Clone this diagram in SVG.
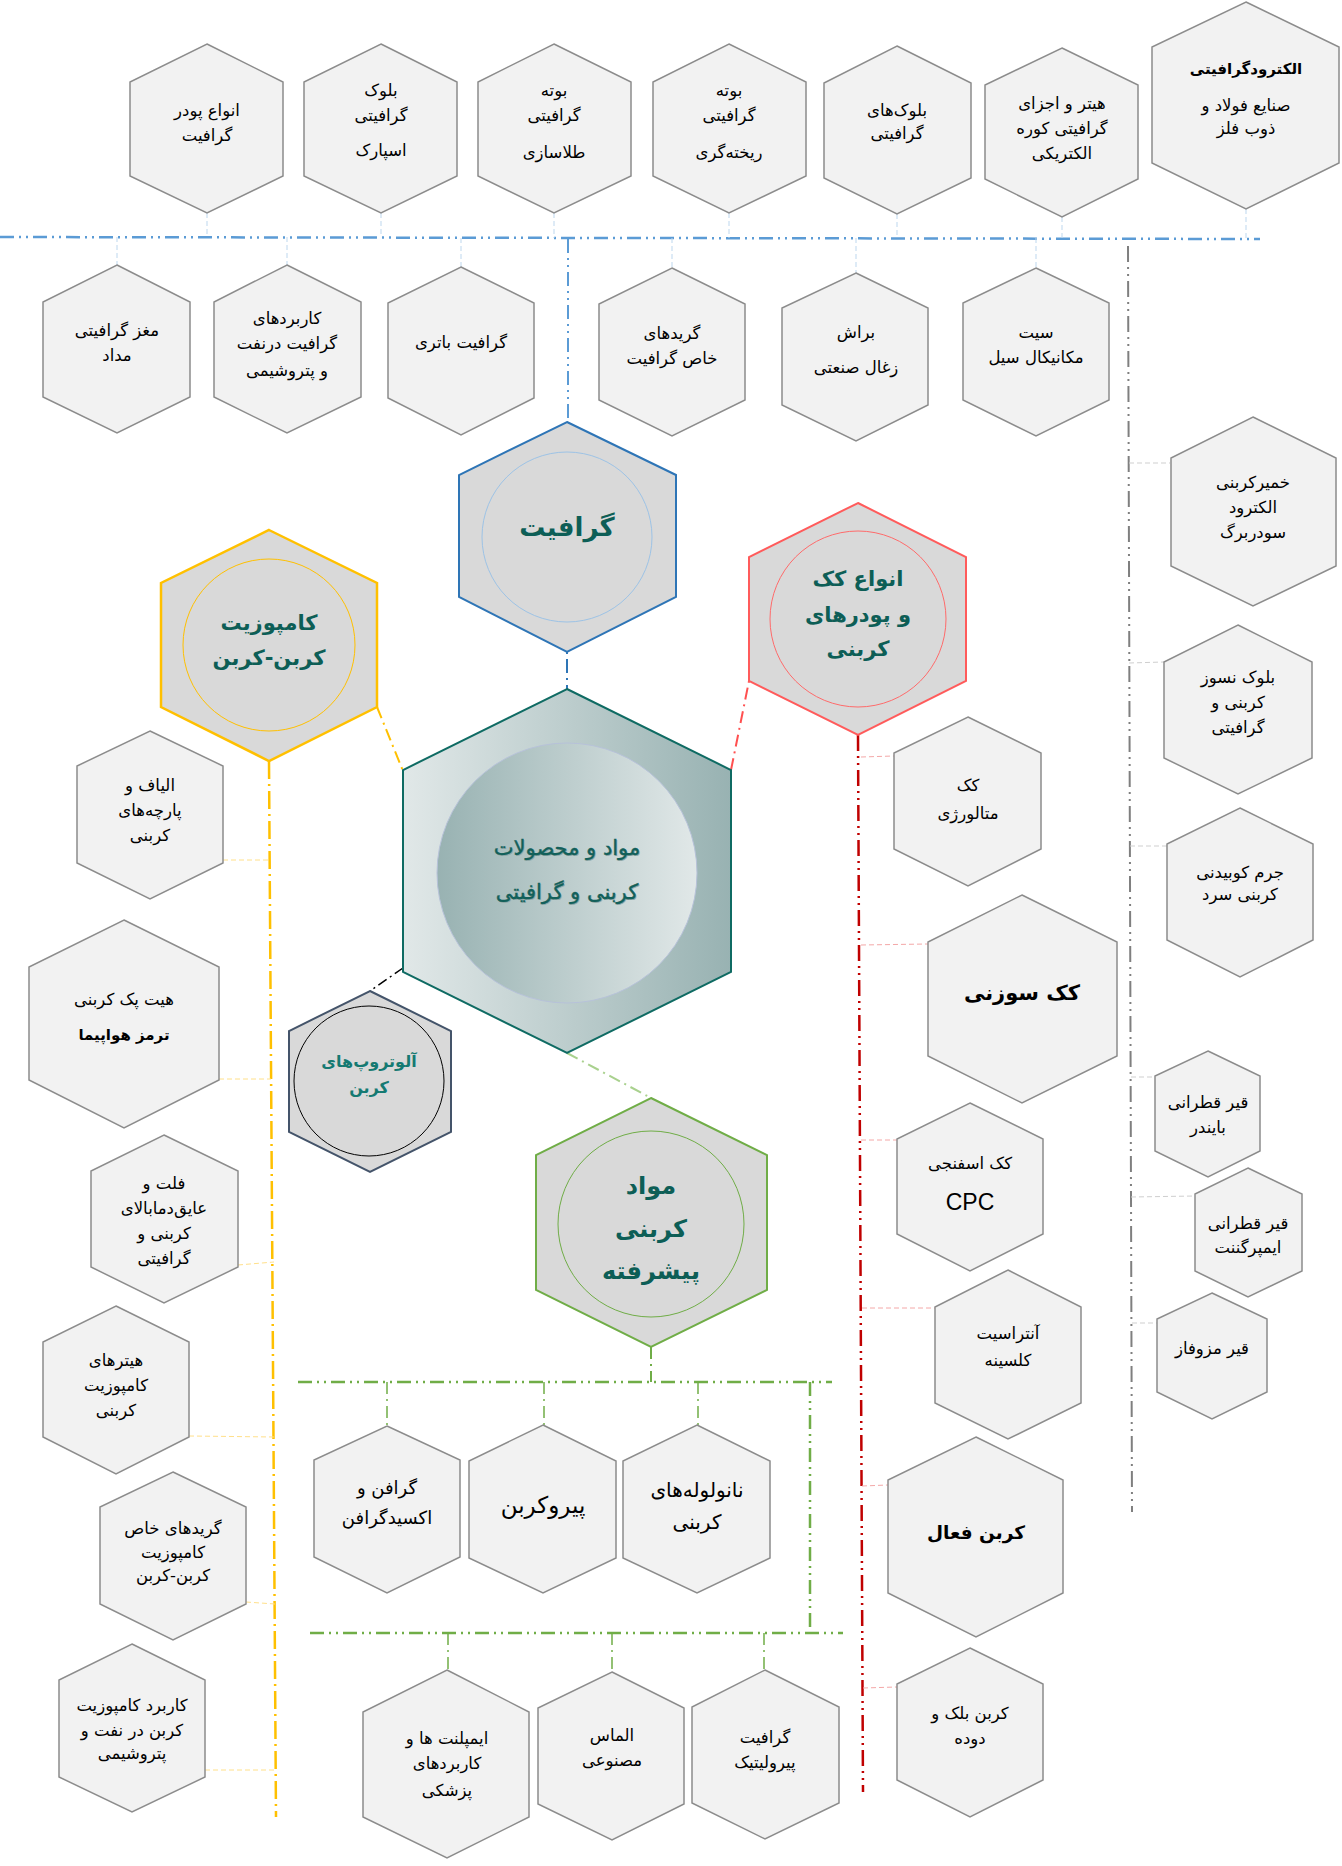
<svg xmlns="http://www.w3.org/2000/svg" width="1342" height="1866" viewBox="0 0 1342 1866">
<style>
text{font-family:"DejaVu Sans","Noto Sans",sans-serif;text-anchor:middle;direction:rtl;}
.t{font-size:16.5px;fill:#000;}
.tb{font-size:15px;fill:#000;font-weight:bold;}
.tbig{font-size:21px;fill:#000;font-weight:bold;}
.cat{font-weight:bold;fill:#0d5e56;}
.hx{fill:#f2f2f2;stroke:#8c8c8c;stroke-width:1.5;}
.thin{fill:none;stroke-width:1;stroke-dasharray:5 3;}
.main{fill:none;}
</style>
<defs>
<linearGradient id="gHex" x1="0" y1="0" x2="1" y2="0">
<stop offset="0" stop-color="#e1e8e8"/><stop offset="1" stop-color="#98b2b2"/>
</linearGradient>
<linearGradient id="gCirc" x1="0" y1="0" x2="1" y2="0">
<stop offset="0" stop-color="#98b2b2"/><stop offset="1" stop-color="#e1e8e8"/>
</linearGradient>
</defs>
<rect width="1342" height="1866" fill="#fff"/>

<g id="connectors">
<line class="main" x1="0" y1="237" x2="1260" y2="239" stroke="#5b9bd5" stroke-width="2.5" stroke-dasharray="14 5 2 5 2 5"/>
<g class="thin" stroke="#bdd7ee">
<line x1="207" y1="213" x2="207" y2="237"/><line x1="381" y1="213" x2="381" y2="237"/>
<line x1="554" y1="213" x2="554" y2="238"/><line x1="729" y1="213" x2="729" y2="238"/>
<line x1="897" y1="214" x2="897" y2="238"/><line x1="1062" y1="217" x2="1062" y2="238"/>
<line x1="1246" y1="209" x2="1246" y2="239"/>
<line x1="117" y1="237" x2="117" y2="265"/><line x1="287" y1="237" x2="287" y2="265"/>
<line x1="461" y1="238" x2="461" y2="267"/><line x1="672" y1="238" x2="672" y2="268"/>
<line x1="856" y1="238" x2="856" y2="273"/><line x1="1036" y1="238" x2="1036" y2="268"/>
</g>
<line class="main" x1="568" y1="239" x2="568" y2="422" stroke="#5b9bd5" stroke-width="2" stroke-dasharray="14 5 2 5 2 5"/>
<line class="main" x1="567" y1="652" x2="567" y2="689" stroke="#2e75b6" stroke-width="2" stroke-dasharray="2 5 14 5"/>
<line class="main" x1="731" y1="770" x2="749" y2="681" stroke="#ff5050" stroke-width="2" stroke-dasharray="12 5 2 5"/>
<line class="main" x1="858" y1="735" x2="863" y2="1792" stroke="#c00000" stroke-width="2.5" stroke-dasharray="16 5 2 5 2 5"/>
<g class="thin" stroke="#f4a8a8">
<line x1="861" y1="757" x2="894" y2="756"/><line x1="861" y1="945" x2="928" y2="944"/>
<line x1="861" y1="1140" x2="897" y2="1140"/><line x1="862" y1="1308" x2="935" y2="1308"/>
<line x1="862" y1="1486" x2="888" y2="1485"/><line x1="863" y1="1688" x2="897" y2="1687"/>
</g>
<line class="main" x1="377" y1="707" x2="403" y2="771" stroke="#ffc000" stroke-width="2" stroke-dasharray="12 5 2 5"/>
<line class="main" x1="269" y1="761" x2="276" y2="1817" stroke="#ffc000" stroke-width="2.5" stroke-dasharray="18 5 2 5"/>
<g class="thin" stroke="#ffe08a">
<line x1="223" y1="860" x2="270" y2="860"/><line x1="219" y1="1079" x2="271" y2="1079"/>
<line x1="238" y1="1265" x2="274" y2="1262"/><line x1="189" y1="1436" x2="275" y2="1437"/>
<line x1="246" y1="1602" x2="275" y2="1604"/><line x1="205" y1="1770" x2="276" y2="1770"/>
</g>
<line class="main" x1="403" y1="968" x2="370" y2="991" stroke="#000" stroke-width="1.5" stroke-dasharray="10 4 2 4"/>
<line class="main" x1="567" y1="1053" x2="651" y2="1098" stroke="#a9d18e" stroke-width="2" stroke-dasharray="12 5 2 5"/>
<line class="main" x1="651" y1="1347" x2="651" y2="1382" stroke="#70ad47" stroke-width="2" stroke-dasharray="12 5 2 5"/>
<g fill="none" stroke="#70ad47" stroke-width="2.5" stroke-dasharray="14 5 2 5 2 5">
<line x1="298" y1="1382" x2="832" y2="1382"/>
<line x1="810" y1="1382" x2="810" y2="1633"/>
<line x1="310" y1="1633" x2="843" y2="1633"/>
</g>
<g fill="none" stroke="#70ad47" stroke-width="1.5" stroke-dasharray="12 5 2 5">
<line x1="387" y1="1382" x2="387" y2="1426"/><line x1="544" y1="1382" x2="544" y2="1425"/>
<line x1="698" y1="1382" x2="698" y2="1425"/><line x1="448" y1="1633" x2="448" y2="1670"/>
<line x1="612" y1="1633" x2="612" y2="1672"/><line x1="764" y1="1633" x2="764" y2="1670"/>
</g>
<line class="main" x1="1128" y1="246" x2="1132" y2="1512" stroke="#7f7f7f" stroke-width="2" stroke-dasharray="16 5 2 5 2 5"/>
<g class="thin" stroke="#cfcfcf">
<line x1="1129" y1="463" x2="1170" y2="463"/><line x1="1129" y1="663" x2="1164" y2="662"/>
<line x1="1130" y1="846" x2="1167" y2="846"/><line x1="1131" y1="1077" x2="1155" y2="1077"/>
<line x1="1131" y1="1197" x2="1195" y2="1196"/><line x1="1132" y1="1323" x2="1157" y2="1323"/>
</g>
</g>

<g id="n_powder"><polygon class="hx" points="207,44 283,82 283,176 207,213 130,176 130,82"/>
<text class="t" x="207" y="116">انواع پودر</text><text class="t" x="207" y="141">گرافیت</text></g>
<g id="n_spark"><polygon class="hx" points="381,44 457,82 457,176 381,213 304,176 304,82"/>
<text class="t" x="381" y="96">بلوک</text><text class="t" x="381" y="121">گرافیتی</text><text class="t" x="381" y="156">اسپارک</text></g>
<g id="n_gold"><polygon class="hx" points="554,44 631,82 631,176 554,213 478,176 478,82"/>
<text class="t" x="554" y="96">بوته</text><text class="t" x="554" y="121">گرافیتی</text><text class="t" x="554" y="158">طلاسازی</text></g>
<g id="n_cast"><polygon class="hx" points="729,44 806,82 806,176 729,213 653,176 653,82"/>
<text class="t" x="729" y="96">بوته</text><text class="t" x="729" y="121">گرافیتی</text><text class="t" x="729" y="158">ریخته‌گری</text></g>
<g id="n_blocks"><polygon class="hx" points="897,46 971,83 971,178 897,214 824,178 824,83"/>
<text class="t" x="897" y="116">بلوک‌های</text><text class="t" x="897" y="139">گرافیتی</text></g>
<g id="n_heater"><polygon class="hx" points="1062,48 1138,85 1138,179 1062,217 985,179 985,85"/>
<text class="t" x="1062" y="109">هیتر و اجزای</text><text class="t" x="1062" y="134">گرافیتی کوره</text><text class="t" x="1062" y="159">الکتریکی</text></g>
<g id="n_electrode"><polygon class="hx" points="1246,2 1339,47 1339,163 1246,209 1152,163 1152,47"/>
<text class="tb" x="1246" y="74">الکترودگرافیتی</text><text class="t" x="1246" y="111">صنایع فولاد و</text><text class="t" x="1246" y="134">ذوب فلز</text></g>

<g id="n_pencil"><polygon class="hx" points="117,265 190,302 190,397 117,433 43,397 43,302"/>
<text class="t" x="117" y="336">مغز گرافیتی</text><text class="t" x="117" y="361">مداد</text></g>
<g id="n_oilgraph"><polygon class="hx" points="287,265 361,302 361,397 287,433 214,397 214,302"/>
<text class="t" x="287" y="324">کاربردهای</text><text class="t" x="287" y="349">گرافیت درنفت</text><text class="t" x="287" y="376">و پتروشیمی</text></g>
<g id="n_battery"><polygon class="hx" points="461,267 534,303 534,398 461,435 388,398 388,303"/>
<text class="t" x="461" y="348">گرافیت باتری</text></g>
<g id="n_grades"><polygon class="hx" points="672,268 745,304 745,400 672,436 599,400 599,304"/>
<text class="t" x="672" y="339">گریدهای</text><text class="t" x="672" y="364">خاص گرافیت</text></g>
<g id="n_brush"><polygon class="hx" points="856,273 928,308 928,405 856,441 782,405 782,308"/>
<text class="t" x="856" y="338">براش</text><text class="t" x="856" y="373">زغال صنعتی</text></g>
<g id="n_seal"><polygon class="hx" points="1036,268 1109,303 1109,400 1036,436 963,400 963,303"/>
<text class="t" x="1036" y="338">سیت</text><text class="t" x="1036" y="363">مکانیکال سیل</text></g>

<g id="n_soder"><polygon class="hx" points="1253,417 1336,458 1336,566 1253,606 1171,566 1171,458"/>
<text class="t" x="1253" y="488">خمیرکربنی</text><text class="t" x="1253" y="513">الکترود</text><text class="t" x="1253" y="538">سودربرگ</text></g>
<g id="n_refract"><polygon class="hx" points="1238,625 1312,662 1312,758 1238,794 1164,758 1164,662"/>
<text class="t" x="1238" y="683">بلوک نسوز</text><text class="t" x="1238" y="708">کربنی و</text><text class="t" x="1238" y="733">گرافیتی</text></g>
<g id="n_ramming"><polygon class="hx" points="1240,808 1313,844 1313,940 1240,977 1167,940 1167,844"/>
<text class="t" x="1240" y="878">جرم کوبیدنی</text><text class="t" x="1240" y="900">کربنی سرد</text></g>
<g id="n_binder"><polygon class="hx" points="1208,1051 1260,1076 1260,1151 1208,1177 1155,1151 1155,1076"/>
<text class="t" x="1208" y="1108">قیر قطرانی</text><text class="t" x="1208" y="1133">بایندر</text></g>
<g id="n_impreg"><polygon class="hx" points="1248,1168 1302,1194 1302,1271 1248,1297 1195,1271 1195,1194"/>
<text class="t" x="1248" y="1229">قیر قطرانی</text><text class="t" x="1248" y="1253">ایمپرگننت</text></g>
<g id="n_meso"><polygon class="hx" points="1212,1293 1267,1319 1267,1392 1212,1419 1157,1392 1157,1319"/>
<text class="t" x="1212" y="1354">قیر مزوفاز</text></g>

<g id="n_metcoke"><polygon class="hx" points="968,717 1041,753 1041,849 968,886 894,849 894,753"/>
<text class="t" x="968" y="791">کک</text><text class="t" x="968" y="819">متالورژی</text></g>
<g id="n_needle"><polygon class="hx" points="1022,895 1117,942 1117,1056 1022,1103 928,1056 928,942"/>
<text class="tbig" x="1022" y="1000">کک سوزنی</text></g>
<g id="n_cpc"><polygon class="hx" points="970,1103 1043,1139 1043,1234 970,1271 897,1234 897,1139"/>
<text class="t" x="970" y="1169">کک اسفنجی</text><text x="970" y="1210" style="font-family:'Liberation Sans',sans-serif;font-size:23px;direction:ltr">CPC</text></g>
<g id="n_anthr"><polygon class="hx" points="1008,1270 1081,1307 1081,1403 1008,1439 935,1403 935,1307"/>
<text class="t" x="1008" y="1339">آنتراسیت</text><text class="t" x="1008" y="1366">کلسینه</text></g>
<g id="n_activated"><polygon class="hx" points="976,1437 1063,1480 1063,1593 976,1637 888,1593 888,1480"/>
<text class="tbig" x="976" y="1539" style="font-size:18.5px">کربن فعال</text></g>
<g id="n_carbonblack"><polygon class="hx" points="970,1648 1043,1684 1043,1780 970,1817 897,1780 897,1684"/>
<text class="t" x="970" y="1719">کربن بلک و</text><text class="t" x="970" y="1744">دوده</text></g>

<g id="n_fibers"><polygon class="hx" points="150,731 223,766 223,863 150,899 77,863 77,766"/>
<text class="t" x="150" y="791">الیاف و</text><text class="t" x="150" y="816">پارچه‌های</text><text class="t" x="150" y="841">کربنی</text></g>
<g id="n_heatpack"><polygon class="hx" points="124,920 219,967 219,1080 124,1128 29,1080 29,967"/>
<text class="t" x="124" y="1005">هیت پک کربنی</text><text class="tb" x="124" y="1040">ترمز هواپیما</text></g>
<g id="n_felt"><polygon class="hx" points="164,1135 238,1171 238,1267 164,1303 91,1267 91,1171"/>
<text class="t" x="164" y="1189">فلت و</text><text class="t" x="164" y="1214">عایق‌دمابالای</text><text class="t" x="164" y="1239">کربنی و</text><text class="t" x="164" y="1264">گرافیتی</text></g>
<g id="n_compheaters"><polygon class="hx" points="116,1306 189,1342 189,1437 116,1474 43,1437 43,1342"/>
<text class="t" x="116" y="1366">هیترهای</text><text class="t" x="116" y="1391">کامپوزیت</text><text class="t" x="116" y="1416">کربنی</text></g>
<g id="n_ccgrades"><polygon class="hx" points="173,1472 246,1507 246,1604 173,1640 100,1604 100,1507"/>
<text class="t" x="173" y="1534">گریدهای خاص</text><text class="t" x="173" y="1558">کامپوزیت</text><text class="t" x="173" y="1581">کربن-کربن</text></g>
<g id="n_ccoil"><polygon class="hx" points="132,1644 205,1680 205,1777 132,1812 59,1777 59,1680"/>
<text class="t" x="132" y="1711">کاربرد کامپوزیت</text><text class="t" x="132" y="1736">کربن در نفت و</text><text class="t" x="132" y="1759">پتروشیمی</text></g>

<g id="n_graphene"><polygon class="hx" points="387,1426 460,1460 460,1557 387,1593 314,1557 314,1460"/>
<text class="t" x="387" y="1494" style="font-size:18px">گرافن و</text><text class="t" x="387" y="1524" style="font-size:18px">اکسیدگرافن</text></g>
<g id="n_pyrocarbon"><polygon class="hx" points="543,1425 616,1461 616,1558 543,1593 469,1558 469,1461"/>
<text class="t" x="543" y="1513" style="font-size:23px">پیروکربن</text></g>
<g id="n_cnt"><polygon class="hx" points="697,1425 770,1461 770,1558 697,1593 623,1558 623,1461"/>
<text class="t" x="697" y="1497" style="font-size:20px">نانولوله‌های</text><text class="t" x="697" y="1529" style="font-size:20px">کربنی</text></g>
<g id="n_implant"><polygon class="hx" points="447,1670 529,1712 529,1817 447,1858 363,1817 363,1712"/>
<text class="t" x="447" y="1744">ایمپلنت ها و</text><text class="t" x="447" y="1769">کاربردهای</text><text class="t" x="447" y="1796">پزشکی</text></g>
<g id="n_diamond"><polygon class="hx" points="612,1672 684,1708 684,1804 612,1840 538,1804 538,1708"/>
<text class="t" x="612" y="1741">الماس</text><text class="t" x="612" y="1766">مصنوعی</text></g>
<g id="n_pyrolytic"><polygon class="hx" points="765,1670 839,1707 839,1803 765,1839 692,1803 692,1707"/>
<text class="t" x="765" y="1743">گرافیت</text><text class="t" x="765" y="1768">پیرولیتیک</text></g>

<g id="c_graphite"><polygon points="567,422 676,475 676,597 567,652 459,597 459,475" fill="#d9d9d9" stroke="#2e75b6" stroke-width="2"/>
<circle cx="567" cy="537" r="85" fill="none" stroke="#9dc3e6" stroke-width="1"/>
<text class="cat" x="567" y="536" style="font-size:26px">گرافیت</text></g>
<g id="c_coke"><polygon points="858,503 966,557 966,681 858,735 749,681 749,557" fill="#d9d9d9" stroke="#ff5b5b" stroke-width="2"/>
<circle cx="858" cy="619" r="88" fill="none" stroke="#ff6b6b" stroke-width="1"/>
<text class="cat" x="858" y="586" style="font-size:21px">انواع کک</text><text class="cat" x="858" y="622" style="font-size:21px">و پودرهای</text><text class="cat" x="858" y="656" style="font-size:21px">کربنی</text></g>
<g id="c_cc"><polygon points="269,530 377,583 377,707 269,761 161,707 161,583" fill="#d9d9d9" stroke="#ffc000" stroke-width="2.5"/>
<circle cx="269" cy="645" r="86" fill="none" stroke="#ffc000" stroke-width="1"/>
<text class="cat" x="269" y="630" style="font-size:21px">کامپوزیت</text><text class="cat" x="269" y="665" style="font-size:21px">کربن-کربن</text></g>
<g id="c_center"><polygon points="567,689 731,770 731,972 567,1053 403,972 403,770" fill="url(#gHex)" stroke="#0f6b63" stroke-width="2"/>
<circle cx="567" cy="873" r="130" fill="url(#gCirc)" stroke="#b7c2d9" stroke-width="1"/>
<text x="568" y="856" style="font-size:21px;fill:#8fa7a5">مواد و محصولات</text><text x="568" y="900" style="font-size:21px;fill:#8fa7a5">کربنی و گرافیتی</text>
<text x="567" y="855" style="font-size:21px;fill:#12605a;stroke:#12605a;stroke-width:0.4">مواد و محصولات</text><text x="567" y="899" style="font-size:21px;fill:#12605a;stroke:#12605a;stroke-width:0.4">کربنی و گرافیتی</text></g>
<g id="c_allotrope"><polygon points="370,991 451,1031 451,1132 370,1172 289,1132 289,1031" fill="#d9d9d9" stroke="#44546a" stroke-width="2"/>
<circle cx="369" cy="1081" r="75" fill="none" stroke="#000" stroke-width="1"/>
<text class="cat" x="369" y="1067" style="font-size:16px;fill:#157a72">آلوتروپ‌های</text><text class="cat" x="369" y="1093" style="font-size:16px;fill:#157a72">کربن</text></g>
<g id="c_advanced"><polygon points="651,1098 767,1155 767,1290 651,1347 536,1290 536,1155" fill="#d9d9d9" stroke="#70ad47" stroke-width="2"/>
<circle cx="651" cy="1224" r="93" fill="none" stroke="#70ad47" stroke-width="1"/>
<text class="cat" x="651" y="1194" style="font-size:24px">مواد</text><text class="cat" x="651" y="1237" style="font-size:24px">کربنی</text><text class="cat" x="651" y="1279" style="font-size:24px">پیشرفته</text></g>
</svg>
